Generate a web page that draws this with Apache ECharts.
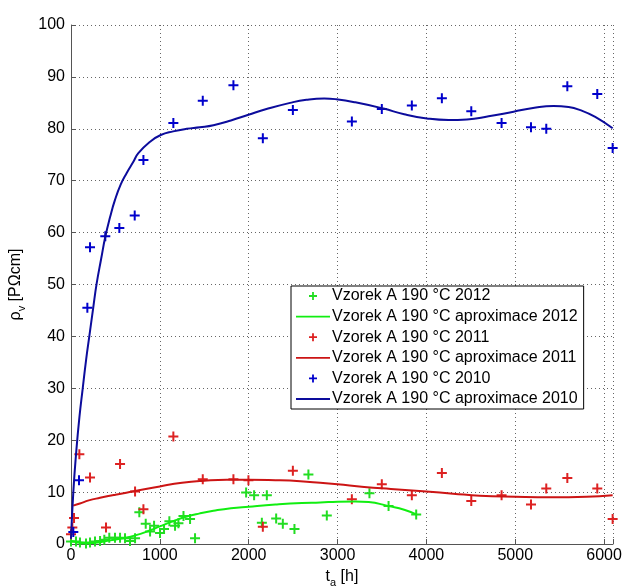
<!DOCTYPE html>
<html><head><meta charset="utf-8">
<script src="https://cdn.jsdelivr.net/npm/echarts@6/dist/echarts.min.js"></script>
<style>html,body{margin:0;padding:0;background:#fff}#c{width:624px;height:586px}</style>
</head><body><div id="c"></div>
<script>
const seriesNames = [
  'Vzorek A 190 °C 2012', 'Vzorek A 190 °C aproximace 2012',
  'Vzorek A 190 °C 2011', 'Vzorek A 190 °C aproximace 2011',
  'Vzorek A 190 °C 2010', 'Vzorek A 190 °C aproximace 2010'
];
const xTicks = [0, 1000, 2000, 3000, 4000, 5000, 6000];
const yTicks = [0, 10, 20, 30, 40, 50, 60, 70, 80, 90, 100];

const points2012 = [[0,0.5],[56,0.5],[101,0.3],[169,0.1],[214,0.3],[270,0.5],[327,0.6],[375,0.8],[431,1.2],[495,1.2],[552,1.2],[608,1.1],[664,0.6],[721,1.1],[769,6.1],[841,3.9],[890,2.4],[935,3.5],[1002,2.1],[1047,2.9],[1107,4.4],[1171,3.5],[1209,4.0],[1266,5.4],[1340,4.8],[1396,1.1],[1971,9.9],[2061,9.4],[2204,9.4],[2148,4.1],[2309,4.9],[2384,3.9],[2515,2.9],[2672,13.4],[2879,5.5],[3359,9.8],[3574,7.3],[3885,5.7]];
const fit2012 = [[0,0.6],[100,0.3],[200,0.2],[300,0.3],[439,0.7],[550,1.0],[670,1.4],[790,2.0],[900,2.7],[1000,3.4],[1150,4.4],[1303,5.3],[1450,5.9],[1603,6.4],[1800,6.9],[2000,7.2],[2300,7.6],[2600,7.9],[2804,8.0],[3000,8.15],[3200,8.2],[3350,8.1],[3574,7.3],[3750,6.6],[3885,5.7]];
const points2011 = [[0,1.9],[15,3.2],[34,5.0],[94,17.3],[214,12.8],[394,3.2],[552,15.4],[721,10.1],[815,6.7],[1152,20.7],[1483,12.5],[1828,12.5],[1997,12.3],[2159,3.3],[2497,14.1],[3161,8.6],[3498,11.5],[3836,9.4],[4174,13.7],[4505,8.3],[4846,9.4],[5177,7.6],[5349,10.7],[5586,12.7],[5923,10.7],[6096,4.8]];
const fit2011 = [[25,7.4],[100,7.8],[200,8.4],[327,8.9],[500,9.5],[721,10.2],[1000,11.1],[1250,11.8],[1500,12.2],[1750,12.4],[2000,12.4],[2300,12.3],[2580,12.1],[2804,11.8],[3000,11.5],[3300,11.0],[3600,10.6],[4000,10.1],[4300,9.7],[4600,9.3],[5000,9.1],[5400,9.0],[5800,9.1],[6096,9.4]];
const points2010 = [[26,2.3],[90,12.3],[184,45.5],[214,57.2],[386,59.3],[544,60.9],[717,63.3],[815,74.0],[1152,81.1],[1483,85.4],[1828,88.4],[2159,78.2],[2497,83.6],[3161,81.4],[3498,83.8],[3836,84.5],[4174,85.9],[4505,83.4],[4846,81.1],[5177,80.3],[5349,80.0],[5586,88.2],[5923,86.7],[6096,76.3]];
const fit2010 = [[0,1],[26,10],[60,18],[95,24.5],[132,30],[170,35.5],[206,40],[250,45.5],[289,50.2],[340,55],[386,59.2],[440,63],[495,66.3],[560,69.3],[627,71.5],[700,73.6],[758,75.3],[890,77.5],[1010,78.8],[1150,79.5],[1303,80.0],[1450,80.3],[1603,80.7],[1800,81.6],[1997,82.7],[2200,83.8],[2466,85.0],[2650,85.6],[2850,85.85],[2984,85.7],[3200,85.1],[3517,83.9],[3750,82.8],[4005,82.0],[4250,81.7],[4456,81.8],[4700,82.4],[4981,83.3],[5200,84.0],[5431,84.4],[5600,84.2],[5732,83.6],[5900,82.3],[6096,80.1]];

const plus = 'path://M4,0h2v4h4v2h-4v4h-2v-4h-4v-2h4z';
// legend icons with an invisible 34x14 bounding box
const box = 'M0,0L0.01,0L0,0.01Z M34,14L33.99,14L34,13.99Z ';
const legendPlus = 'path://' + box + 'M16.1,3h1.8v3.1h3.1v1.8h-3.1v3.1h-1.8v-3.1h-3.1v-1.8h3.1z';
const legendLine = 'path://' + box + 'M0,6.1h34v1.8h-34z';
const font = 'Liberation Sans';
function scatter(name, data, color) {
  return { name, type: 'scatter', data, symbol: plus, symbolSize: 10, symbolKeepAspect: true,
    itemStyle: { color, opacity: 1 }, z: 3 };
}
function fit(name, data, color) {
  return { name, type: 'line', data, smooth: true, showSymbol: false, symbol: 'none',
    lineStyle: { color, width: 2 }, itemStyle: { color }, z: 4 };
}

const chart = echarts.init(document.getElementById('c'), null, { renderer: 'canvas' });
chart.setOption({
  backgroundColor: '#fff',
  animation: false,
  textStyle: { fontFamily: font },
  grid: { left: 71, right: 11, top: 25, bottom: 42, outerBoundsMode: 'none', containLabel: false },
  xAxis: {
    type: 'value', min: 0, max: 6100, interval: 1000,
    name: '{t|t}{s|a}{t| [h]}', nameLocation: 'middle', nameGap: 20,
    nameTextStyle: { rich: { t: { fontSize: 16, fontFamily: font, color: '#000' }, s: { fontSize: 11, fontFamily: font, color: '#000', padding: [12, 0, 0, 0] } } },
    axisLine: { show: true, lineStyle: { color: '#555', width: 1 } },
    axisTick: { show: true, inside: true, length: 5, lineStyle: { color: '#555' } },
    axisLabel: { fontSize: 16, color: '#000', fontFamily: font, margin: 4,
      customValues: xTicks, formatter: v => String(v) },
    splitLine: { show: true, lineStyle: { type: [1, 3], color: '#666', width: 1 } }
  },
  yAxis: {
    type: 'value', min: 0, max: 100, interval: 10,
    name: '{t|ρ}{s|v}{t| [PΩcm]}', nameLocation: 'middle', nameGap: 37,
    nameTextStyle: { rich: { t: { fontSize: 16, fontFamily: font, color: '#000' }, s: { fontSize: 11, fontFamily: font, color: '#000', padding: [12, 0, 0, 0] } } },
    axisLine: { show: true, lineStyle: { color: '#555', width: 1 } },
    axisTick: { show: true, inside: true, length: 5, lineStyle: { color: '#555' } },
    axisLabel: { fontSize: 16, color: '#000', fontFamily: font, margin: 6,
      customValues: yTicks, formatter: v => String(v) },
    splitLine: { show: true, lineStyle: { type: [1, 3], color: '#666', width: 1 } }
  },
  legend: {
    orient: 'vertical', left: 291, top: 286,
    padding: [2, 6, 2, 5], itemGap: 4.6, itemWidth: 34, itemHeight: 14,
    backgroundColor: '#fff', borderColor: '#000', borderWidth: 1,
    textStyle: { fontSize: 16, color: '#000', fontFamily: font, padding: [0, 0, 0, -3] },
    data: seriesNames.map((n, i) => ({ name: n, icon: i % 2 === 0 ? legendPlus : legendLine }))
  },
  series: [
    scatter(seriesNames[0], points2012, '#22dd22'),
    fit(seriesNames[1], fit2012, '#11ee11'),
    scatter(seriesNames[2], points2011, '#dd2222'),
    fit(seriesNames[3], fit2011, '#cc1414'),
    scatter(seriesNames[4], points2010, '#0000cc'),
    fit(seriesNames[5], fit2010, '#0c0c9c')
  ]
});
</script></body></html>
